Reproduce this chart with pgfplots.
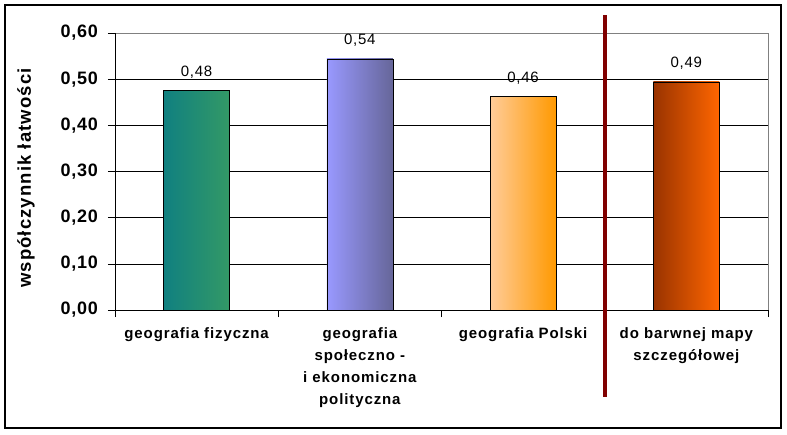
\documentclass[border=0pt]{standalone}
\usepackage{pgfplots}
\pgfplotsset{compat=1.18}
\usepackage{fontspec}
\setmainfont{Liberation Sans}
\newfontfamily\wsp[LetterSpace=6]{Liberation Sans}
\newfontfamily\wspt[LetterSpace=4]{Liberation Sans}
\newfontfamily\wspb[LetterSpace=5]{Liberation Sans}
\definecolor{darkred}{RGB}{128,0,0}
\definecolor{gridgray}{RGB}{128,128,128}
\definecolor{aL}{RGB}{16,128,128}\definecolor{aR}{RGB}{51,153,102}
\definecolor{bL}{RGB}{153,153,255}\definecolor{bR}{RGB}{102,102,153}
\definecolor{cL}{RGB}{255,204,153}\definecolor{cR}{RGB}{255,153,0}
\definecolor{dL}{RGB}{153,51,0}\definecolor{dR}{RGB}{255,102,0}
\begin{document}
\begin{tikzpicture}[x=1pt,y=1pt]
\useasboundingbox (0,0) rectangle (787,434);
\draw[line width=1.5pt] (5,6) rectangle (781,429);
\begin{axis}[
  at={(115pt,124pt)}, anchor=south west,
  width=653pt, height=277pt, scale only axis,
  xmin=-0.5, xmax=3.5, ymin=0, ymax=0.6,
  clip=false,
  axis line style={draw=none},
  xtick pos=lower, ytick pos=left,
  ytick={0,0.1,0.2,0.3,0.4,0.5,0.6},
  ymajorgrids, grid style={black, line width=0.6pt},
  /pgf/number format/.cd, fixed, fixed zerofill, precision=2, use comma, assume math mode=true,
  /pgfplots/.cd,
  yticklabel style={font=\wspt\bfseries\fontsize{18}{18}\selectfont, anchor=east, inner sep=0pt, xshift=-10pt},
  ytick style={black, line width=0.6pt},
  tick align=outside, major tick length=7pt,
  xtick={-0.5,0.5,1.5,3.5}, xticklabels={},
  xtick style={black, line width=0.6pt},
  extra x ticks={0,1,2,3},
  extra x tick labels={{geografia fizyczna},{geografia\\społeczno -\\i ekonomiczna\\polityczna},{geografia Polski},{do barwnej mapy\\szczegółowej}},
  extra x tick style={major tick length=0pt, grid=none,
    xticklabel style={font=\wsp\bfseries\fontsize{15}{22}\selectfont, align=center, anchor=north, inner sep=0pt, yshift=-17pt}},
  ybar, bar width=66pt, bar shift=0pt,
  nodes near coords={\pgfplotspointmeta},
  point meta=explicit symbolic,
  every node near coord/.append style={font=\wspb\fontsize{15}{15}\selectfont, inner sep=0pt, anchor=south, yshift=12pt, black},
]
\addplot[draw=black, line width=0.6pt, left color=aL, right color=aR] coordinates {(0,0.475) [0,48]};
\addplot[draw=black, line width=0.6pt, left color=bL, right color=bR] coordinates {(1,0.544) [0,54]};
\addplot[draw=black, line width=0.6pt, left color=cL, right color=cR] coordinates {(2,0.462) [0,46]};
\addplot[draw=black, line width=0.6pt, left color=dL, right color=dR] coordinates {(3,0.494) [0,49]};
\draw[gridgray, line width=0.8pt] (rel axis cs:0,1) -- (rel axis cs:1,1) -- (rel axis cs:1,0);
\draw[black, line width=0.8pt] (rel axis cs:0,1) -- (rel axis cs:0,0) -- (rel axis cs:1,0);
\draw[darkred, line width=4pt] (axis cs:2.5,0.639) -- (axis cs:2.5,-0.188);
\end{axis}
\node[rotate=90, font=\wsp\bfseries\fontsize{18.5}{18.5}\selectfont] at (26,256) {współczynnik łatwości};
\end{tikzpicture}
\end{document}
